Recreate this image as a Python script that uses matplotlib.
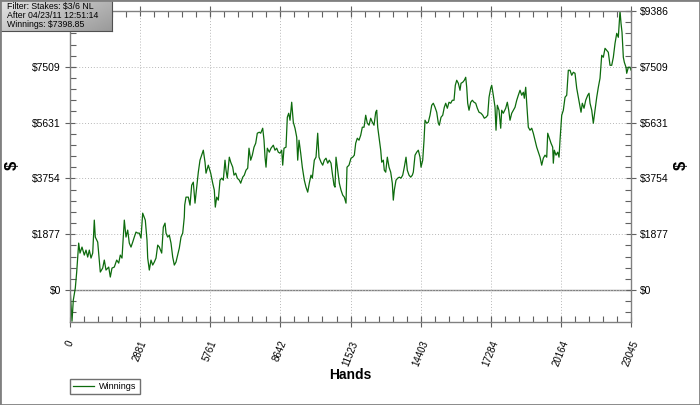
import numpy as np
import matplotlib
matplotlib.use("Agg")
import matplotlib.pyplot as plt
from matplotlib.ticker import AutoMinorLocator, FixedLocator
from matplotlib.patches import Rectangle
from matplotlib.colors import LinearSegmentedColormap

# x tick positions (hands) and y tick positions ($)
hand_ticks = [0, 2881, 5761, 8642, 11523, 14403, 17284, 20164, 23045]
dollar_ticks = [0, 1877, 3754, 5631, 7509, 9386]
dollar_labels = ["$0", "$1877", "$3754", "$5631", "$7509", "$9386"]

info_lines = ["Filter: Stakes: $3/6 NL", "After 04/23/11 12:51:14", "Winnings: $7398.85"]

# cumulative winnings
hands = [0, 82, 136, 218, 275, 357, 411, 493, 587, 657, 727, 793, 863, 933, 998, 1039,
         1138, 1204, 1245, 1343, 1409, 1479, 1590, 1656, 1725, 1820, 1918, 2001, 2066, 2136,
         2231, 2300, 2370, 2436, 2506, 2576, 2641, 2711, 2781, 2847, 2917, 2986, 3093, 3163,
         3192, 3258, 3327, 3397, 3463, 3533, 3603, 3668, 3767, 3833, 3903, 3944, 4013, 4079,
         4149, 4219, 4285, 4354, 4424, 4490, 4560, 4630, 4695, 4712, 4765, 4860, 4930, 4999,
         5065, 5135, 5205, 5271, 5340, 5410, 5476, 5546, 5587, 5681, 5780, 5862, 5928, 5969,
         6026, 6092, 6162, 6232, 6298, 6367, 6408, 6462, 6544, 6602, 6684, 6737, 6807, 6873,
         6955, 7012, 7095, 7160, 7230, 7300, 7353, 7423, 7489, 7559, 7629, 7694, 7776, 7834,
         7916, 7970, 8011, 8052, 8105, 8187, 8257, 8352, 8421, 8491, 8557, 8627, 8697, 8738,
         8791, 8873, 8927, 8984, 9038, 9107, 9173, 9243, 9313, 9354, 9407, 9477, 9543, 9625,
         9695, 9765, 9830, 9900, 9954, 10036, 10106, 10175, 10229, 10311, 10381, 10447, 10516,
         10586, 10652, 10722, 10775, 10845, 10886, 10927, 10997, 11063, 11133, 11203, 11268,
         11338, 11379, 11461, 11543, 11613, 11679, 11736, 11802, 11872, 11942, 12008, 12078,
         12147, 12213, 12283, 12353, 12419, 12488, 12558, 12599, 12640, 12694, 12764, 12805,
         12871, 12911, 12969, 13035, 13105, 13174, 13240, 13281, 13322, 13392, 13462, 13528,
         13597, 13667, 13733, 13803, 13856, 13926, 13996, 14062, 14103, 14173, 14242, 14308,
         14378, 14419, 14489, 14543, 14583, 14653, 14719, 14789, 14859, 14924, 14994, 15064,
         15130, 15171, 15241, 15311, 15376, 15434, 15500, 15569, 15639, 15705, 15775, 15828,
         15886, 15952, 16021, 16062, 16132, 16198, 16255, 16296, 16337, 16391, 16461, 16527,
         16596, 16666, 16732, 16802, 16884, 16954, 17019, 17089, 17159, 17213, 17282, 17323,
         17389, 17459, 17500, 17553, 17623, 17693, 17734, 17800, 17898, 17964, 18022, 18075,
         18145, 18211, 18281, 18351, 18416, 18486, 18556, 18622, 18663, 18720, 18761, 18827,
         18897, 18967, 19032, 19102, 19172, 19238, 19308, 19377, 19443, 19513, 19583, 19624,
         19690, 19759, 19829, 19854, 19895, 19965, 20035, 20088, 20129, 20199, 20265, 20335,
         20404, 20470, 20540, 20610, 20676, 20745, 20815, 20881, 20951, 20992, 21045, 21115,
         21185, 21267, 21321, 21362, 21432, 21497, 21567, 21637, 21703, 21772, 21842, 21908,
         21978, 22048, 22113, 22183, 22253, 22319, 22389, 22459, 22524, 22594, 22635, 22676,
         22730, 22771, 22840, 22869, 22935, 23004, 23045]
winnings = [101, -1050, -336, 67, 605, 1579, 1243, 1445, 1176, 1344, 1109, 1344, 1075, 1243,
            2352, 1781, 1613, 1008, 605, 739, 1008, 672, 773, 437, 739, 773, 1008, 907, 1176,
            1075, 2352, 1781, 2016, 1579, 1445, 1613, 1781, 1949, 1915, 1915, 1747, 2587, 2352,
            1680, 1075, 672, 1008, 840, 941, 1075, 1512, 1445, 1243, 2117, 2251, 1915, 1781,
            1848, 1579, 1109, 840, 941, 1176, 1411, 1781, 1915, 2453, 2856, 3125, 3125, 2856,
            3528, 3629, 2923, 3461, 3965, 4368, 4536, 4704, 4301, 3931, 4200, 3931, 3595, 3360,
            2789, 3125, 3024, 3696, 3763, 3696, 4368, 4032, 3763, 4469, 4301, 4133, 3864, 3931,
            3763, 3696, 3595, 3797, 3864, 4032, 4099, 4771, 4368, 4536, 4805, 4939, 5275, 5309,
            5275, 5443, 5040, 4469, 4133, 4771, 4637, 4771, 4872, 4704, 4771, 4637, 4603, 4704,
            4200, 4771, 4805, 5813, 5947, 5712, 6317, 5645, 5443, 5141, 4368, 5040, 4603, 4133,
            3696, 3461, 3293, 3595, 3864, 3763, 4368, 4469, 5275, 4469, 4301, 4200, 4368, 4435,
            4267, 4368, 4267, 3931, 3528, 3461, 4469, 4032, 3595, 3360, 3192, 3125, 2923, 4133,
            4200, 4435, 4469, 4536, 4939, 5107, 5040, 5208, 5477, 5477, 5880, 5611, 5544, 5779,
            5645, 5544, 5981, 6048, 5477, 5141, 4704, 4301, 4368, 4032, 3965, 4469, 4133, 3965,
            3595, 3024, 3360, 3696, 3763, 3797, 3763, 3864, 4133, 4469, 4032, 3864, 3797, 3864,
            3965, 4536, 4637, 4704, 4469, 4133, 4368, 5040, 5712, 5611, 5645, 5880, 6216, 6283,
            6149, 5981, 5611, 5544, 5813, 5880, 6149, 6283, 6115, 6317, 6283, 6384, 6384, 6888,
            7056, 6955, 6720, 6955, 6989, 7056, 7157, 6821, 6283, 6048, 6317, 6384, 6317, 6283,
            6115, 5981, 5947, 5880, 5779, 5813, 5880, 6485, 6787, 6888, 6552, 6149, 5376, 6216,
            6048, 5443, 6048, 5947, 6115, 6317, 6048, 5712, 5947, 6048, 6149, 6384, 6552, 6720,
            6552, 6653, 6451, 6821, 6283, 5477, 5376, 5443, 5275, 5040, 4805, 4637, 4469, 4200,
            4435, 4536, 4469, 5275, 5107, 4939, 4805, 4267, 4704, 4536, 4637, 4469, 5040, 5880,
            6048, 6485, 6552, 7392, 7392, 7224, 7325, 7291, 6787, 6485, 6149, 5981, 6283, 6115,
            6384, 6552, 6619, 6283, 6048, 5611, 6048, 6485, 6821, 7123, 7896, 7829, 8131, 8064,
            7997, 7560, 7560, 7829, 8299, 8635, 8501, 9386, 8971, 8669, 7829, 7661, 7493, 7291,
            7493, 7493, 7399]

W, H = 700, 405
fig = plt.figure(figsize=(W / 100, H / 100), dpi=100)
plt.rcParams['font.family'] = ['Liberation Sans', 'DejaVu Sans']

ax = fig.add_axes([70 / W, 1 - 322 / H, 561 / W, 311 / H])
line, = ax.plot(hands, winnings, color='#0d6b0d', lw=0.9, label='Winnings')
ax.axhline(0, color='#808080', lw=1.0, zorder=1)

ax.set_xlim(0, 23045)
ax.set_ylim(-1075, 9386)

ax.xaxis.set_major_locator(FixedLocator(hand_ticks))
ax.set_xticklabels([str(h) for h in hand_ticks], rotation=68, ha='center', va='top')
ax.xaxis.set_minor_locator(AutoMinorLocator(5))
ax.yaxis.set_major_locator(FixedLocator(dollar_ticks))
ax.set_yticklabels(dollar_labels)
ax.yaxis.set_minor_locator(AutoMinorLocator(5))

ax.tick_params(axis='both', which='major', direction='inout', length=7, width=0.8,
               colors='#606060', labelcolor='black', labelsize=7.5)
ax.tick_params(axis='x', which='major', labelsize=7)
ax.tick_params(axis='both', which='minor', direction='in', length=4, width=0.8, colors='#606060')
ax.tick_params(axis='y', which='both', left=True, right=True, labelleft=True, labelright=True, pad=3)
ax.tick_params(axis='x', which='both', bottom=True, top=True, pad=9)
# the left top label sits under the info box in the original
ax.yaxis.get_major_ticks()[-1].label1.set_visible(False)

ax.grid(True, which='major', color='#b8b8b8', linestyle=(0, (1, 2)), lw=0.7)
for s in ax.spines.values():
    s.set_color('#808080')
    s.set_linewidth(1.0)

ax.set_xlabel('Hands', fontsize=10, fontweight='bold', labelpad=0)
fig.text(12 / W, 1 - 165 / H, '$', fontsize=12, fontweight='bold', rotation=90,
         ha='center', va='center')
fig.text(681 / W, 1 - 165 / H, '$', fontsize=12, fontweight='bold', rotation=90,
         ha='center', va='center')

fig.legend(handles=[line], loc='lower left', bbox_to_anchor=(70 / W, 1 - 394 / H),
           borderaxespad=0, fancybox=False, edgecolor='#707070', fontsize=6.5,
           handlelength=2.3, handletextpad=0.6, borderpad=0.35, framealpha=1)

# info box with gradient background
ib = fig.add_axes([0, 1 - 31 / H, 112 / W, 31 / H])
box_cmap = LinearSegmentedColormap.from_list('box', ['#e4e4e4', '#9a9a9a'])
grad = np.linspace(0, 1, 100)[None, :] * 0.65 + np.linspace(0, 1, 30)[:, None] * 0.35
ib.imshow(grad, cmap=box_cmap, vmin=0, vmax=1, aspect='auto', extent=(0, 1, 0, 1))
ib.set_xticks([])
ib.set_yticks([])
for s in ib.spines.values():
    s.set_color('#505050')
ib.text(0.06, 0.5, "\n".join(info_lines), fontsize=6.3, va='center', ha='left',
        linespacing=1.05, transform=ib.transAxes)

fig.patches.append(Rectangle((0, 0), 1, 1, transform=fig.transFigure, fill=False,
                             edgecolor='#808080', lw=2))

fig.savefig('out.png', dpi=100)
